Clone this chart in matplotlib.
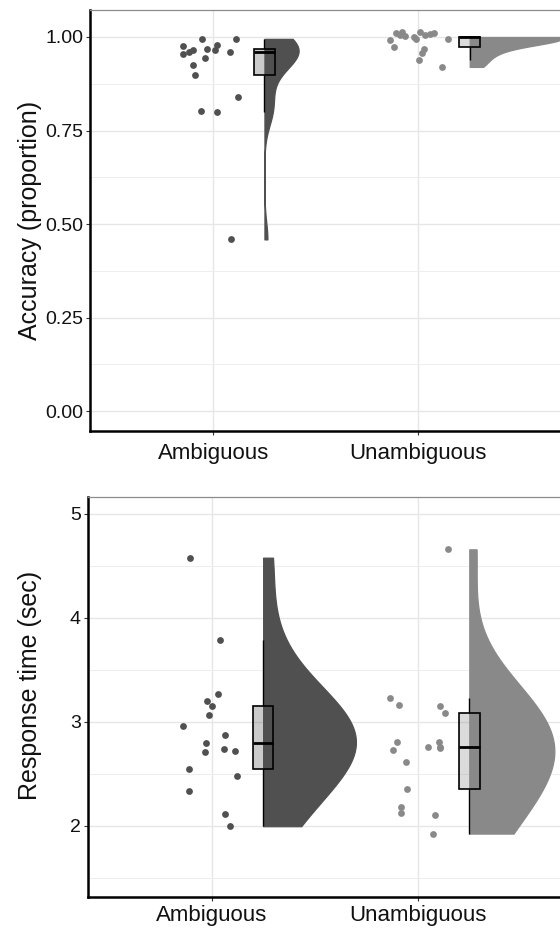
import numpy as np
import matplotlib.pyplot as plt
from matplotlib.patches import Rectangle
from matplotlib.colors import to_rgba

plt.rcParams['font.family'] = ['Liberation Sans', 'DejaVu Sans']

# data

groups = ["Ambiguous", "Unambiguous"]
colors = ["#505050", "#898989"]

# accuracy (proportion), one value per participant, with the horizontal jitter of each dot
acc_amb = [0.976, 0.955, 0.961, 0.966, 0.995, 0.967, 0.943, 0.926, 0.898, 0.979,
           0.965, 0.994, 0.961, 0.840, 0.801, 0.800, 0.459]
acc_amb_jit = [-0.148, -0.145, -0.120, -0.096, -0.052, -0.031, -0.042, -0.099, -0.088, 0.021,
               0.011, 0.109, 0.084, 0.119, -0.057, 0.018, 0.088]

acc_unamb = [0.992, 0.972, 1.010, 1.013, 1.003, 1.001, 0.994, 1.013, 1.008, 1.010,
             0.994, 0.967, 0.956, 0.938, 0.920, 1.004, 1.006]
acc_unamb_jit = [-0.140, -0.120, -0.107, -0.080, -0.067, -0.020, -0.010, 0.010, 0.055, 0.075,
                 0.145, 0.026, 0.016, 0.003, 0.116, -0.090, 0.030]

# response time (sec)
rt_amb = [4.577, 3.788, 3.272, 3.199, 3.151, 3.061, 2.964, 2.878, 2.801, 2.709,
          2.738, 2.721, 2.545, 2.478, 2.337, 2.118, 1.997]
rt_amb_jit = [-0.105, 0.040, 0.032, -0.021, 0.003, -0.015, -0.141, 0.065, -0.028, -0.034,
              0.062, 0.113, -0.110, 0.124, -0.108, 0.063, 0.091]

rt_unamb = [4.657, 3.228, 3.157, 3.151, 3.084, 2.805, 2.728, 2.808, 2.757, 2.757,
            2.615, 2.353, 2.186, 2.128, 2.106, 1.926, 2.745]
rt_unamb_jit = [0.146, -0.134, -0.093, 0.107, 0.130, -0.103, -0.119, 0.105, 0.108, 0.050,
                -0.058, -0.050, -0.081, -0.081, 0.083, 0.076, 0.107]

acc_ticks = [0, 0.25, 0.5, 0.75, 1.0]
rt_ticks = [2, 3, 4, 5]

BW_ADJUST = 1.75


def bw_nrd0(v):
    # same rule as R's density() default
    sd = np.std(v, ddof=1)
    iqr = np.subtract(*np.percentile(v, [75, 25]))
    return 0.9 * min(sd, iqr / 1.34) * len(v) ** -0.2


def kde(v, n=512):
    grid = np.linspace(v.min(), v.max(), n)
    bw = bw_nrd0(v) * BW_ADJUST
    d = np.exp(-0.5 * ((grid[:, None] - v[None, :]) / bw) ** 2).sum(axis=1)
    d = d / (len(v) * bw * np.sqrt(2 * np.pi))
    return grid, d


def raincloud(ax, values, jitters, clip_max=None):
    vals = [np.array(v, dtype=float) for v in values]
    true_vals = [np.clip(v, None, clip_max) if clip_max is not None else v for v in vals]
    dens = [kde(v) for v in true_vals]
    dmax = max(d.max() for _, d in dens)

    for i, (v, tv, jit, c) in enumerate(zip(vals, true_vals, jitters, colors)):
        pos = i + 1
        bx = pos + 0.25

        # points
        ax.scatter(pos + np.array(jit), v, s=24, color=c, linewidths=0, zorder=3)

        # half violin (outlined in its own colour, so thin tails stay visible)
        g, d = dens[i]
        ax.fill_betweenx(g, bx, bx + 0.45 * d / dmax, facecolor=c, edgecolor=c,
                         linewidth=0.9, zorder=2)

        # boxplot
        q1, med, q3 = np.percentile(tv, [25, 50, 75])
        iqr = q3 - q1
        lo = tv[tv >= q1 - 1.5 * iqr].min()
        hi = tv[tv <= q3 + 1.5 * iqr].max()
        ax.plot([bx, bx], [q3, hi], color='black', lw=1.0, zorder=4, solid_capstyle='butt')
        ax.plot([bx, bx], [lo, q1], color='black', lw=1.0, zorder=4, solid_capstyle='butt')
        ax.add_patch(Rectangle((bx - 0.05, q1), 0.1, q3 - q1, facecolor=to_rgba(c, 0.3),
                               edgecolor='black', lw=1.2, zorder=4))
        ax.plot([bx - 0.05, bx + 0.05], [med, med], color='black', lw=2.0, zorder=5,
                solid_capstyle='butt')


def style(ax, yticks, ylabels, minor, ylim, ylabel, xpad):
    ax.set_xlim(0.4, 2.69)
    ax.set_ylim(*ylim)
    ax.set_xticks([1, 2])
    ax.set_xticklabels(groups, fontsize=16, color='#111111')
    ax.set_yticks(yticks)
    ax.set_yticklabels(ylabels, fontsize=14, color='#111111')
    ax.set_yticks(minor, minor=True)
    ax.tick_params(axis='y', which='minor', length=0)
    ax.tick_params(axis='both', which='major', length=3, width=0.8, color='#333333')
    ax.tick_params(axis='y', pad=2)
    ax.tick_params(axis='x', pad=xpad)
    ax.grid(True, which='major', color='#e6e6e6', lw=1.0, zorder=0)
    ax.grid(True, which='minor', axis='y', color='#eeeeee', lw=0.7, zorder=0)
    ax.set_axisbelow(True)
    for s in ['left', 'bottom']:
        ax.spines[s].set_color('black')
        ax.spines[s].set_linewidth(1.8)
    ax.spines['top'].set_color('#8c8c8c')
    ax.spines['top'].set_linewidth(0.9)
    ax.spines['right'].set_visible(False)
    ax.set_ylabel(ylabel, fontsize=18, color='#111111')


fig = plt.figure(figsize=(5.6, 9.3), dpi=100)

# Accuracy panel
ax1 = fig.add_axes([0.1607, 0.5366, 0.8393, 0.4526])
raincloud(ax1, [acc_amb, acc_unamb], [acc_amb_jit, acc_unamb_jit], clip_max=1.0)
style(ax1, acc_ticks, ["%.2f" % t for t in acc_ticks], [0.125, 0.375, 0.625, 0.875],
      (-0.053, 1.072), "Accuracy (proportion)", xpad=6)
ax1.yaxis.set_label_coords(-0.102, 0.5)

# Response time panel
ax2 = fig.add_axes([0.157, 0.0355, 0.843, 0.4301])
raincloud(ax2, [rt_amb, rt_unamb], [rt_amb_jit, rt_unamb_jit])
style(ax2, rt_ticks, [str(t) for t in rt_ticks], [1.5, 2.5, 3.5, 4.5],
      (1.317, 5.16), "Response time (sec)", xpad=3)
ax2.yaxis.set_label_coords(-0.097, 0.53)

fig.savefig("out.png", dpi=100)
